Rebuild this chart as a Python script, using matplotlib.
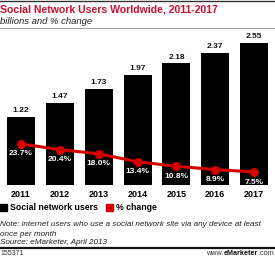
import matplotlib
matplotlib.use("Agg")
import matplotlib.pyplot as plt
from matplotlib.lines import Line2D
from matplotlib.patches import Rectangle

years = ["2011", "2012", "2013", "2014", "2015", "2016", "2017"]
users = [1.22, 1.47, 1.73, 1.97, 2.18, 2.37, 2.55]
pct_change = [23.7, 20.4, 18.0, 13.4, 10.8, 8.9, 7.5]

W, H = 275, 258
fig = plt.figure(figsize=(W / 100, H / 100), dpi=100)
plt.rcParams['font.family'] = ['Liberation Sans', 'DejaVu Sans']

def fx(px):
    return px / W

def fy(py):
    return 1 - py / H

# axes: bottom at y=185, top at y=35
ax_left, ax_right = 1.6, 273.6
ax_top, ax_bot = 35, 185
ax = fig.add_axes([fx(ax_left), fy(ax_bot), fx(ax_right - ax_left), (ax_bot - ax_top) / H])
x = list(range(len(years)))
ax.bar(x, users, width=0.72, color="black")
ax.set_xlim(-0.5, len(years) - 0.5)
ax.set_ylim(0, 2.69)
for xi, v in zip(x, users):
    ax.text(xi, v + 0.05, f"{v:.2f}", ha="center", va="bottom", fontsize=6, fontweight="bold", color="#111111")
ax.set_xticks(x)
ax.set_xticklabels(years, fontsize=6.5, fontweight="bold")
ax.tick_params(axis="x", length=0, pad=3.5)
ax.set_yticks([])
for s in ax.spines.values():
    s.set_visible(False)

ax2 = ax.twinx()
ax2.set_ylim(0, 86.5)
ax2.plot(x, pct_change, color="#d40000", lw=2.2, marker="o", ms=5.5, zorder=3)
for xi, p in zip(x, pct_change):
    ax2.text(xi, p - 5.8, f"{p:.1f}%", ha="center", va="center", fontsize=6, fontweight="bold", color="white")
ax2.set_yticks([])
for s in ax2.spines.values():
    s.set_visible(False)

# title and subtitle
fig.text(fx(0), fy(9), "Social Network Users Worldwide, 2011-2017", fontsize=7.6, fontweight="bold",
         color="#c8102e", va="center", ha="left")
fig.text(fx(0), fy(21), "billions and % change", fontsize=6.8, style="italic", color="#222222",
         va="center", ha="left")

# rules
fig.add_artist(Line2D([0, 1], [fy(0.7), fy(0.7)], color="#333333", lw=1.0))
fig.add_artist(Line2D([0, 1], [fy(28), fy(28)], color="#999999", lw=0.7))
fig.add_artist(Line2D([0, 1], [fy(248), fy(248)], color="#111111", lw=1.6))

# legend
fig.add_artist(Rectangle((fx(0), fy(211)), fx(7), 7 / H, color="black"))
fig.text(fx(10), fy(207.5), "Social network users", fontsize=6.3, fontweight="bold", va="center", ha="left")
fig.add_artist(Rectangle((fx(106), fy(211)), fx(7), 7 / H, color="#d40000"))
fig.text(fx(116), fy(207.5), "% change", fontsize=6.3, fontweight="bold", va="center", ha="left")

# notes
fig.text(fx(0), fy(225), "Note: internet users who use a social network site via any device at least",
         fontsize=5.9, style="italic", color="#222222", va="center", ha="left")
fig.text(fx(0), fy(234), "once per month", fontsize=5.9, style="italic", color="#222222", va="center", ha="left")
fig.text(fx(0), fy(242), "Source: eMarketer, April 2013", fontsize=5.9, style="italic", color="#222222",
         va="center", ha="left")

fig.text(fx(0), fy(253.5), "155371", fontsize=5, color="#333333", va="center", ha="left")

# footer url, laid out right-aligned piece by piece
fig.canvas.draw()
renderer = fig.canvas.get_renderer()
pieces = [("www.", "normal", "#333333"), ("eMarketer", "bold", "#111111"), (".com", "normal", "#333333")]
right = W - 1.5
for txt, wt, col in reversed(pieces):
    t = fig.text(fx(right), fy(253.5), txt, fontsize=5.2, fontweight=wt, color=col, va="center", ha="right")
    bb = t.get_window_extent(renderer=renderer)
    right -= bb.width

fig.savefig("out.png", dpi=100)
